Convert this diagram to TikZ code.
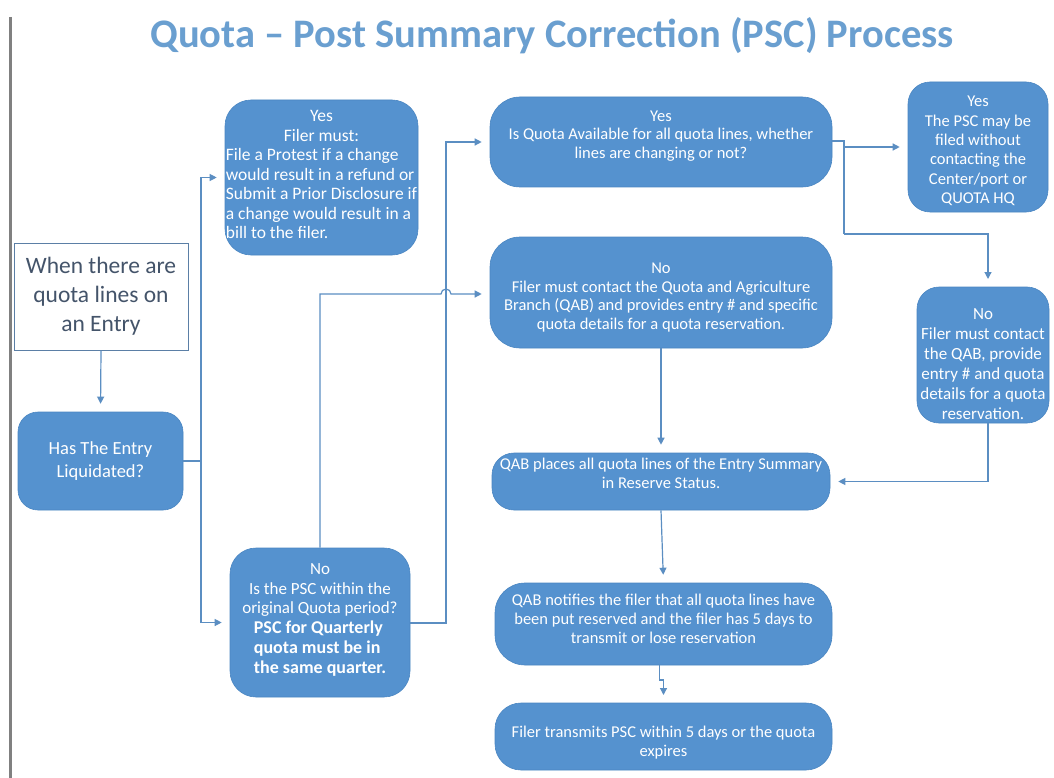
\documentclass[tikz,border=0pt]{standalone}
\usepackage{fontspec}
\setmainfont{Carlito}
\usetikzlibrary{arrows.meta}
\definecolor{boxblue}{HTML}{5592CF}
\definecolor{boxedge}{HTML}{4A86C2}
\definecolor{linecol}{HTML}{5B8EC2}
\definecolor{titlecol}{HTML}{6A9FD0}
\definecolor{slate}{HTML}{44546A}
\definecolor{framecol}{HTML}{5B7FA6}
\definecolor{sidegray}{HTML}{808080}
\begin{document}
\begin{tikzpicture}[x=1pt,y=-1pt,
  bluebox/.style={fill=boxblue, draw=boxedge, line width=0.6pt, rounded corners=#1, inner sep=0pt},
  bluebox/.default=22pt,
  btext/.style={text=white, align=center, inner sep=0pt, font=\fontsize{16.5}{18.8}\selectfont},
  startbox/.style={fill=white, draw=framecol, line width=1pt, text=slate, align=center,
    font=\fontsize{23.5}{29}\selectfont},
  conn/.style={draw=linecol, line width=1.2pt},
  arr/.style={conn, -{Triangle[length=7pt,width=7pt]}, shorten >=8pt}
]
\fill[white] (0,0) rectangle (1054,778);
\useasboundingbox (0,0) rectangle (1054,778);
% left gray rule
\draw[sidegray, line width=3pt] (10,17) -- (10,778);
% title
\node[text=titlecol, font=\fontsize{40.5}{48}\selectfont\bfseries] (title) at (552,36)
  {Quota -- Post Summary Correction (PSC) Process};

% boxes
\node[startbox, minimum width=174pt, minimum height=107pt] (start) at (101,296.5)
  {When there are\\quota lines on\\an Entry};
\node[bluebox=20pt, minimum width=165pt, minimum height=98pt, btext, font=\fontsize{18.5}{23}\selectfont] (liq) at (100.5,461)
  {Has The Entry\\Liquidated?};

\node[bluebox=26pt, minimum width=193pt, minimum height=155pt] (yes1) at (321.5,177.5) {};
\node[btext, font=\fontsize{17.5}{19.5}\selectfont] (yes1-t) at (yes1)
  {Yes\\Filer must:\\\begin{tabular}[t]{@{}l@{}}File a Protest if a change\\would result in a refund or\\Submit a Prior Disclosure if\\a change would result in a\\bill to the filer.\end{tabular}};

\node[bluebox=26pt, minimum width=180pt, minimum height=149pt] (no1) at (320,622.5) {};
\node[btext, font=\fontsize{17}{19.5}\selectfont, yshift=1pt] (no1-t) at (no1)
  {No\\Is the PSC within the\\original Quota period?\\%
   {\fontsize{18}{20}\selectfont\bfseries\begin{tabular}[t]{@{}l@{}}PSC for Quarterly\\quota must be in\\the same quarter.\end{tabular}}};

\node[bluebox=30pt, minimum width=342pt, minimum height=90pt] (qavail) at (661,142) {};
\node[btext, yshift=6pt] (qavail-t) at (qavail)
  {Yes\\Is Quota Available for all quota lines, whether\\lines are changing or not?};

\node[bluebox=30pt, minimum width=342pt, minimum height=111pt] (qno) at (661,292.5) {};
\node[btext, yshift=-5pt] (qno-t) at (qno)
  {No\\Filer must contact the Quota and Agriculture\\Branch (QAB) and provides entry \# and specific\\quota details for a quota reservation.};

\node[bluebox=22pt, minimum width=140pt, minimum height=130pt] (yes2) at (978,147) {};
\node[btext, font=\fontsize{16.5}{19.3}\selectfont, yshift=-4pt] (yes2-t) at (yes2)
  {Yes\\The PSC may be\\filed without\\contacting the\\Center/port or\\QUOTA HQ};

\node[bluebox=22pt, minimum width=132pt, minimum height=136pt] (no2) at (983,355) {};
\node[btext, font=\fontsize{17}{20}\selectfont, yshift=-9pt] (no2-t) at (no2)
  {No\\Filer must contact\\the QAB, provide\\entry \# and quota\\details for a quota\\reservation.};

\node[bluebox=22pt, minimum width=338pt, minimum height=57pt] (place) at (661,481.5) {};
\node[btext, yshift=8pt] (place-t) at (place)
  {QAB places all quota lines of the Entry Summary\\in Reserve Status.};

\node[bluebox=30pt, minimum width=337pt, minimum height=82pt] (notify) at (663.5,624) {};
\node[btext, yshift=5pt] (notify-t) at (notify)
  {QAB notifies the filer that all quota lines have\\been put reserved and the filer has 5 days to\\transmit or lose reservation};

\node[bluebox=26pt, minimum width=337pt, minimum height=67pt] (transmit) at (663.5,736.5) {};
\node[btext, yshift=-6pt] (transmit-t) at (transmit)
  {Filer transmits PSC within 5 days or the quota\\expires};

% junction coordinates
\coordinate (j1) at (201,461);
\coordinate (j2) at (446,623);
\coordinate (j3) at (844,141);
\coordinate (j4) at (844,147);

% connectors
\draw[arr] (start.south) -- (liq.north);
\draw[conn] (liq.east |- j1) -- (j1);
\draw[arr] (j1) |- (yes1.west);
\draw[arr] (j1) |- (no1.west);
\draw[arr] (no1.east |- j2) -- (j2) |- (qavail.west);
\draw[arr] (no1.north) -- (320,294) -- (441,294) arc[start angle=180, end angle=360, radius=5] -- (qno.west |- 0,294);
\draw[conn] (qavail.east |- j3) -- (j3) -- (844,234);
\draw[arr] (j4) -- (yes2.west |- j4);
\draw[arr] (844,234) -| (988,287);
\draw[arr] (988,423) |- (place.east);
\draw[arr] (qno.south) -- (place.north);
\draw[arr] (place.south) -- (notify.north);
\draw[arr] (659.5,665) -- (659.5,680) -| (663.5,703);
\end{tikzpicture}
\end{document}
